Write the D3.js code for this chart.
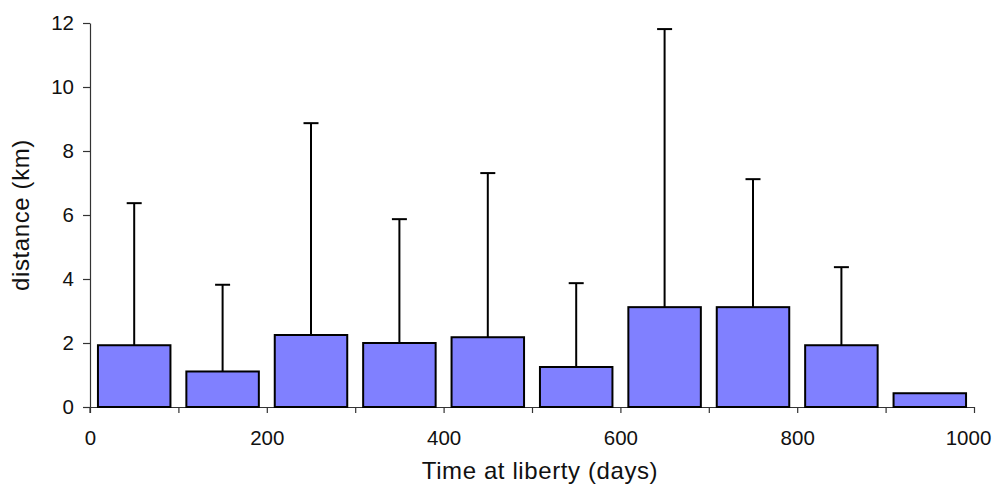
<!DOCTYPE html>
<html>
<head>
<meta charset="utf-8">
<script src="https://cdn.jsdelivr.net/npm/d3@7"></script>
<style>
  html, body { margin: 0; padding: 0; background: #fff; }
  svg { display: block; font-family: "Liberation Sans", Arial, sans-serif; }
</style>
</head>
<body>
<svg id="chart" width="994" height="486"></svg>
<script>
// Data
const categories = ["0-100", "100-200", "200-300", "300-400", "400-500", "500-600", "600-700", "700-800", "800-900", "900-1000"];
const meanDistance = [1.93, 1.11, 2.25, 2.00, 2.18, 1.25, 3.12, 3.12, 1.93, 0.43];
const errorUpper = [4.44, 2.71, 6.62, 3.87, 5.13, 2.62, 8.69, 4.00, 2.44, 0];
const xTickValues = [0, 100, 200, 300, 400, 500, 600, 700, 800, 900, 1000];
const xLabelValues = [0, 200, 400, 600, 800, 1000];
const yTickValues = [0, 2, 4, 6, 8, 10, 12];
const xTitle = "Time at liberty (days)";
const yTitle = "distance (km)";

const W = 994, H = 486;
const margin = { top: 23, right: 20, bottom: 79, left: 90 };
const iw = W - margin.left - margin.right;
const ih = H - margin.top - margin.bottom;

const svg = d3.select("#chart");
const g = svg.append("g").attr("transform", `translate(${margin.left},${margin.top})`);

const pad = 0.18;
const x = d3.scaleBand().domain(categories).range([0, iw]).paddingInner(pad).paddingOuter(pad / 2);
const xDays = d3.scaleLinear().domain([0, 1000]).range([0, iw]);
const y = d3.scaleLinear().domain([0, 12]).range([ih, 0]);

// X axis (tick marks at bin boundaries)
const xAxis = g.append("g")
  .attr("transform", `translate(0,${ih})`)
  .call(d3.axisBottom(xDays)
    .tickValues(xTickValues)
    .tickSize(6)
    .tickSizeOuter(0)
    .tickPadding(17)
    .tickFormat(d => xLabelValues.includes(d) ? d : ""));
xAxis.select(".domain").attr("stroke", "#333").attr("stroke-width", 1.2);
xAxis.selectAll(".tick line").attr("stroke", "#333").attr("stroke-width", 1.2);
xAxis.selectAll(".tick text").attr("font-size", 20.5).attr("fill", "#111").attr("font-family", '"Liberation Sans", Arial, sans-serif');
// keep the last label inside the picture, as in the reference
xAxis.selectAll(".tick text").filter(d => d === 1000).attr("dx", -6);

// Y axis
const yAxis = g.append("g")
  .call(d3.axisLeft(y)
    .tickValues(yTickValues)
    .tickSize(7)
    .tickSizeOuter(0)
    .tickPadding(9));
yAxis.select(".domain").attr("stroke", "#333").attr("stroke-width", 1.2);
yAxis.selectAll(".tick line").attr("stroke", "#333").attr("stroke-width", 1.2);
yAxis.selectAll(".tick text").attr("font-size", 20.5).attr("fill", "#111").attr("font-family", '"Liberation Sans", Arial, sans-serif');

// Extend the y axis line down to the x-axis tick length
g.append("line")
  .attr("x1", 0).attr("x2", 0)
  .attr("y1", ih).attr("y2", ih + 6)
  .attr("stroke", "#333").attr("stroke-width", 1.2);

const data = categories.map((c, i) => ({ c, v: meanDistance[i], e: errorUpper[i] }));

// Error bars
const eb = g.append("g").selectAll("g").data(data.filter(d => d.e > 0)).join("g");
eb.append("line")
  .attr("x1", d => x(d.c) + x.bandwidth() / 2)
  .attr("x2", d => x(d.c) + x.bandwidth() / 2)
  .attr("y1", d => y(d.v))
  .attr("y2", d => y(d.v + d.e))
  .attr("stroke", "#000").attr("stroke-width", 2);
eb.append("line")
  .attr("x1", d => x(d.c) + x.bandwidth() / 2 - 7.5)
  .attr("x2", d => x(d.c) + x.bandwidth() / 2 + 7.5)
  .attr("y1", d => y(d.v + d.e))
  .attr("y2", d => y(d.v + d.e))
  .attr("stroke", "#000").attr("stroke-width", 2);

// Bars
g.append("g").selectAll("rect").data(data).join("rect")
  .attr("x", d => x(d.c))
  .attr("y", d => y(d.v))
  .attr("width", x.bandwidth())
  .attr("height", d => y(0) - y(d.v))
  .attr("fill", "#8080ff")
  .attr("stroke", "#000")
  .attr("stroke-width", 2);

// Axis titles
svg.append("text")
  .attr("x", 540).attr("y", 479)
  .attr("text-anchor", "middle")
  .attr("font-size", 24)
  .attr("letter-spacing", 0.6)
  .attr("fill", "#111")
  .text(xTitle);

svg.append("text")
  .attr("transform", `translate(29,${margin.top + ih / 2}) rotate(-90)`)
  .attr("text-anchor", "middle")
  .attr("font-size", 24)
  .attr("letter-spacing", 0.6)
  .attr("fill", "#111")
  .text(yTitle);
</script>
</body>
</html>
